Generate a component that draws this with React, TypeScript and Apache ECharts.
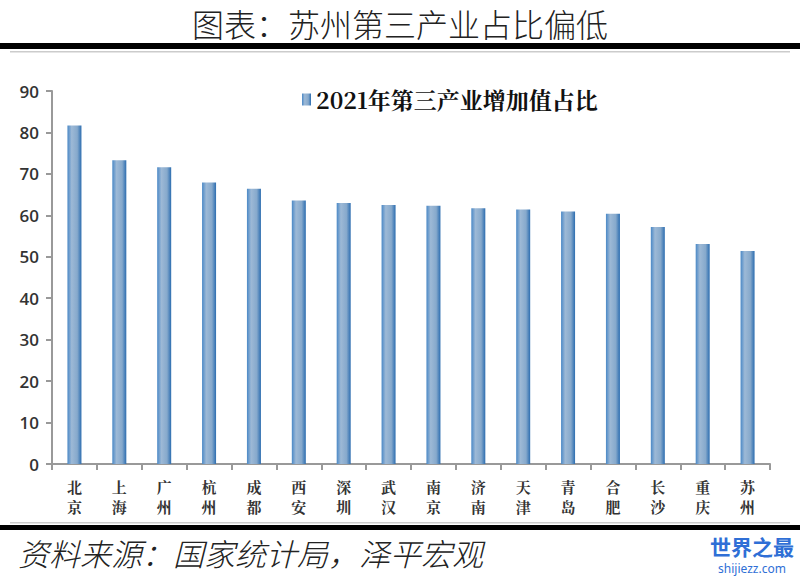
import React, { useEffect, useRef } from "react";
import * as echarts from "echarts";

const categories = ["北京", "上海", "广州", "杭州", "成都", "西安", "深圳", "武汉", "南京", "济南", "天津", "青岛", "合肥", "长沙", "重庆", "苏州"];
const values = [81.7, 73.3, 71.6, 67.9, 66.4, 63.6, 63.0, 62.5, 62.3, 61.7, 61.4, 60.9, 60.4, 57.2, 53.1, 51.4];
const seriesName = "2021年第三产业增加值占比";
const titleText = "图表：苏州第三产业占比偏低";
const sourceText = "资料来源：国家统计局，泽平宏观";

export default function App() {
  const ref = useRef<HTMLDivElement>(null);
  useEffect(() => {
    const chart = echarts.init(ref.current!, null, { renderer: "svg" });
    const barGrad = new echarts.graphic.LinearGradient(0, 0, 1, 0, [
      { offset: 0, color: "#4a88c6" },
      { offset: 0.3, color: "#9db9d6" },
      { offset: 0.7, color: "#86a9cc" },
      { offset: 1, color: "#2c6db0" },
    ]);
    chart.setOption({
      animation: false,
      backgroundColor: "#ffffff",
      title: {
        text: titleText,
        left: "center",
        top: 6,
        padding: 0,
        textStyle: { fontFamily: "Noto Sans CJK SC", fontWeight: 300, fontSize: 32, lineHeight: 34, color: "#222" },
      },
      legend: {
        data: [seriesName],
        left: 297,
        top: 83,
        itemWidth: 9,
        itemHeight: 12,
        itemGap: 6,
        icon: "rect",
        textStyle: { fontFamily: "Noto Serif CJK SC, Noto Sans CJK SC", fontWeight: "bold", fontSize: 23, color: "#111" },
      },
      grid: { left: 52, right: 30, top: 91, bottom: 112 },
      xAxis: {
        type: "category",
        data: categories,
        axisLine: { lineStyle: { color: "#999", width: 2 } },
        axisTick: { show: true, alignWithLabel: false, length: 6, lineStyle: { color: "#999", width: 2 } },
        axisLabel: {
          formatter: (v: string) => v.split("").join("\n"),
          fontFamily: "Noto Serif CJK SC, Noto Sans CJK SC",
          fontWeight: "bold",
          fontSize: 15,
          lineHeight: 20,
          color: "#333",
          margin: 12,
        },
      },
      yAxis: {
        type: "value",
        min: 0,
        max: 90,
        interval: 10,
        axisLine: { show: true, lineStyle: { color: "#999", width: 2 } },
        axisTick: { show: true, length: 6, lineStyle: { color: "#999", width: 2 } },
        splitLine: { show: false },
        axisLabel: { fontFamily: "Open Sans", fontWeight: 600, fontSize: 17, color: "#333", margin: 13 },
      },
      series: [
        {
          name: seriesName,
          type: "bar",
          data: values,
          barWidth: 14,
          itemStyle: { color: barGrad },
        },
      ],
      graphic: [
        { type: "rect", shape: { x: 0, y: 43, width: 800, height: 6 }, style: { fill: "#000" } },
        { type: "rect", shape: { x: 10, y: 51, width: 780, height: 1.5 }, style: { fill: "#ccc" } },
        { type: "rect", shape: { x: 10, y: 522, width: 780, height: 1.5 }, style: { fill: "#ccc" } },
        { type: "rect", shape: { x: 0, y: 525, width: 800, height: 5 }, style: { fill: "#000" } },
        {
          type: "text",
          x: 18,
          y: 552,
          style: {
            text: sourceText,
            fontFamily: "Noto Sans CJK SC",
            fontWeight: 300,
            fontStyle: "italic",
            fontSize: 31,
            lineHeight: 34,
            fill: "#222",
            verticalAlign: "middle",
          },
        },
        {
          type: "text",
          x: 752,
          y: 546,
          style: {
            text: "世界之最",
            fontFamily: "Noto Sans CJK SC",
            fontWeight: "bold",
            fontSize: 21,
            fill: "#2f6fd6",
            align: "center",
            verticalAlign: "middle",
          },
        },
        {
          type: "text",
          x: 752,
          y: 568,
          style: {
            text: "shijiezz.com",
            fontFamily: "Noto Sans",
            fontSize: 12,
            fill: "#2f6fd6",
            align: "center",
            verticalAlign: "middle",
          },
        },
      ],
    });
    return () => chart.dispose();
  }, []);
  return <div ref={ref} style={{ width: 800, height: 576, position: "fixed", left: 0, top: 0 }} />;
}
